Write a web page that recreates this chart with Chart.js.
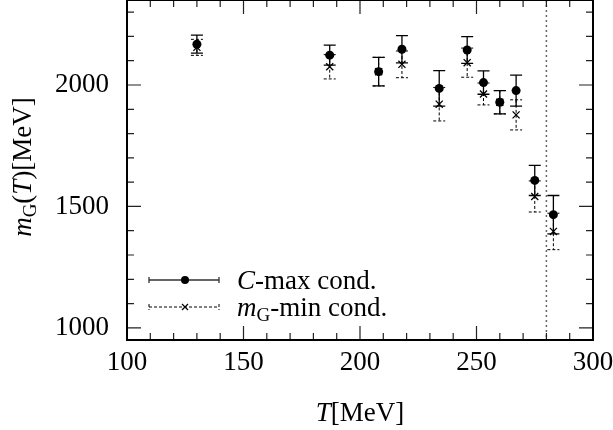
<!DOCTYPE html>
<html><head><meta charset="utf-8">
<script src="https://cdn.jsdelivr.net/npm/chart.js@4"></script>
<style>html,body{margin:0;padding:0;background:#fff}#c{display:block}</style>
</head><body>
<canvas id="c" width="613" height="430"></canvas>
<script>
// ---- data ----
const temperatures = [130, 187, 208, 218, 234, 246, 253, 260, 267, 275, 283];
const cmaxMass     = [2168, 2123, 2055, 2147, 1986, 2144, 2010, 1929, 1977, 1607, 1466];
const cmaxErr      = [37, 41, 59, 56, 73, 55, 48, 48, 64, 62, 79];
const mgminMass    = [2155, 2075, 2055, 2085, 1921, 2092, 1963, 1929, 1877, 1541, 1397];
const mgminErr     = [33, 50, 59, 55, 69, 60, 45, 48, 62, 64, 75];
const xTickLabels  = [100, 150, 200, 250, 300];
const yTickLabels  = [1000, 1500, 2000];
const criticalT    = 280;

const FONT = '"Liberation Serif","Times New Roman",serif';
const FS = 27;

function drawRich(ctx, pieces, x, y, align) {
  let total = 0;
  pieces.forEach(p => { ctx.font = p.font; p.w = ctx.measureText(p.t).width; total += p.w; });
  let cx = align === 'center' ? x - total / 2 : x;
  ctx.textBaseline = 'alphabetic';
  ctx.textAlign = 'left';
  pieces.forEach(p => { ctx.font = p.font; ctx.fillText(p.t, cx, y + (p.dy || 0)); cx += p.w; });
}

const errPlugin = {
  id: 'errbars',
  beforeDatasetsDraw(chart) {
    const ctx = chart.ctx, xs = chart.scales.x, ys = chart.scales.y, a = chart.chartArea;
    ctx.save();
    ctx.strokeStyle = '#666'; ctx.lineWidth = 1.5; ctx.setLineDash([2, 3]);
    const xc = xs.getPixelForValue(criticalT);
    ctx.beginPath(); ctx.moveTo(xc, a.top); ctx.lineTo(xc, a.bottom); ctx.stroke();
    const cap = 6;
    function bar(t, m, e, dashed) {
      const x = xs.getPixelForValue(t), y1 = ys.getPixelForValue(m + e), y2 = ys.getPixelForValue(m - e);
      ctx.setLineDash(dashed ? [3, 2] : []);
      ctx.strokeStyle = '#000'; ctx.lineWidth = dashed ? 1 : 1.3;
      ctx.beginPath();
      ctx.moveTo(x, y1); ctx.lineTo(x, y2);
      ctx.moveTo(x - cap, y1); ctx.lineTo(x + cap, y1);
      ctx.moveTo(x - cap, y2); ctx.lineTo(x + cap, y2);
      ctx.stroke();
    }
    temperatures.forEach((t, i) => bar(t, mgminMass[i], mgminErr[i], true));
    temperatures.forEach((t, i) => bar(t, cmaxMass[i], cmaxErr[i], false));
    ctx.restore();
  },
  afterDraw(chart) {
    const ctx = chart.ctx, xs = chart.scales.x, ys = chart.scales.y, a = chart.chartArea;
    ctx.save();
    ctx.fillStyle = '#000';
    ctx.strokeStyle = '#222'; ctx.lineWidth = 1.2; ctx.setLineDash([]);
    ctx.beginPath();
    for (let v = 100; v <= 300; v += 10) {
      const x = xs.getPixelForValue(v), L = v % 50 === 0 ? 14 : 7;
      ctx.moveTo(x, a.bottom); ctx.lineTo(x, a.bottom - L);
      ctx.moveTo(x, a.top); ctx.lineTo(x, a.top + L);
    }
    for (let v = 1000; v <= 2300; v += 100) {
      const y = ys.getPixelForValue(v), L = v % 500 === 0 ? 14 : 7;
      ctx.moveTo(a.left, y); ctx.lineTo(a.left + L, y);
      ctx.moveTo(a.right, y); ctx.lineTo(a.right - L, y);
    }
    ctx.stroke();
    ctx.strokeStyle = '#000'; ctx.lineWidth = 2;
    ctx.strokeRect(a.left, a.top, a.right - a.left, a.bottom - a.top);
    drawRich(ctx, [
      { t: 'T', font: 'italic ' + FS + 'px ' + FONT },
      { t: '[MeV]', font: FS + 'px ' + FONT }
    ], (a.left + a.right) / 2, 421, 'center');
    ctx.save();
    ctx.translate(31, 167); ctx.rotate(-Math.PI / 2);
    drawRich(ctx, [
      { t: 'm', font: 'italic ' + FS + 'px ' + FONT },
      { t: 'G', font: '19px ' + FONT, dy: 5 },
      { t: '(', font: FS + 'px ' + FONT },
      { t: 'T', font: 'italic ' + FS + 'px ' + FONT },
      { t: ')[MeV]', font: FS + 'px ' + FONT }
    ], 0, 0, 'center');
    ctx.restore();
    const rows = [
      { y: 280, dashed: false, pieces: [{ t: 'C', font: 'italic ' + FS + 'px ' + FONT }, { t: '-max cond.', font: FS + 'px ' + FONT }] },
      { y: 307, dashed: true, pieces: [{ t: 'm', font: 'italic ' + FS + 'px ' + FONT }, { t: 'G', font: '19px ' + FONT, dy: 5 }, { t: '-min cond.', font: FS + 'px ' + FONT }] }
    ];
    rows.forEach(r => {
      ctx.strokeStyle = r.dashed ? '#000' : '#333';
      ctx.lineWidth = r.dashed ? 1 : 1.3;
      ctx.setLineDash(r.dashed ? [3, 2] : []);
      ctx.beginPath();
      ctx.moveTo(149, r.y); ctx.lineTo(219, r.y);
      ctx.moveTo(149, r.y - 3); ctx.lineTo(149, r.y + 3);
      ctx.moveTo(219, r.y - 3); ctx.lineTo(219, r.y + 3);
      ctx.stroke();
      ctx.setLineDash([]);
      if (!r.dashed) {
        ctx.beginPath(); ctx.arc(185, r.y, 4, 0, Math.PI * 2); ctx.fill();
      } else {
        ctx.lineWidth = 1.2; ctx.beginPath();
        ctx.moveTo(182, r.y - 3); ctx.lineTo(188, r.y + 3);
        ctx.moveTo(182, r.y + 3); ctx.lineTo(188, r.y - 3);
        ctx.stroke();
      }
      drawRich(ctx, r.pieces, 237, r.y + 9, 'left');
    });
    ctx.restore();
  }
};

function zeroPad(s) { s.paddingTop = 0; s.paddingBottom = 0; s.paddingLeft = 0; s.paddingRight = 0; }

new Chart(document.getElementById('c'), {
  type: 'scatter',
  data: {
    datasets: [
      { label: 'mG-min cond.', data: temperatures.map((t, i) => ({ x: t, y: mgminMass[i] })),
        pointStyle: 'crossRot', radius: 5, borderColor: '#000', backgroundColor: '#000', borderWidth: 1.3 },
      { label: 'C-max cond.', data: temperatures.map((t, i) => ({ x: t, y: cmaxMass[i] })),
        pointStyle: 'circle', radius: 4.5, borderColor: '#000', backgroundColor: '#000', borderWidth: 0 }
    ]
  },
  options: {
    responsive: false, animation: false, devicePixelRatio: 1,
    layout: { autoPadding: false, padding: { top: 0, right: 20, left: 0, bottom: 0 } },
    plugins: { legend: { display: false }, tooltip: { enabled: false } },
    scales: {
      x: {
        type: 'linear', min: 100, max: 300,
        afterBuildTicks: s => { s.ticks = xTickLabels.map(v => ({ value: v })); },
        afterFit: s => { s.height = 90; zeroPad(s); },
        grid: { display: false, drawTicks: false }, border: { display: false },
        ticks: { font: { family: FONT, size: FS }, color: '#000', padding: 7, maxRotation: 0, autoSkip: false,
                 callback: v => String(v) }
      },
      y: {
        type: 'linear', min: 950, max: 2350,
        afterBuildTicks: s => { s.ticks = yTickLabels.map(v => ({ value: v })); },
        afterFit: s => { s.width = 127; zeroPad(s); },
        grid: { display: false, drawTicks: false }, border: { display: false },
        ticks: { font: { family: FONT, size: FS }, color: '#000', padding: 18, autoSkip: false,
                 callback: v => String(v) }
      }
    }
  },
  plugins: [errPlugin]
});
</script>
</body></html>
